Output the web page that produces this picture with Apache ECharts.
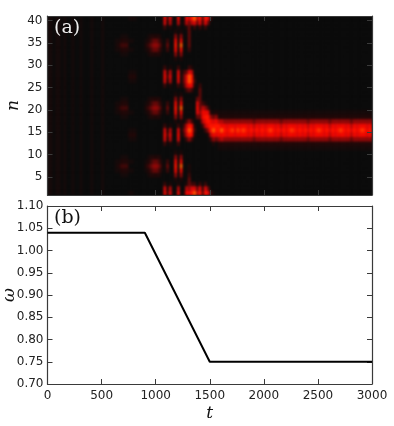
<!DOCTYPE html>
<html><head><meta charset="utf-8">
<style>html,body{margin:0;padding:0;background:#fff}#c{width:394px;height:426px}
/* soften only the heatmap layer (zlevel 0), and keep it inside panel (a) */
#c canvas[data-zr-dom-id="zr_0"]{background:#0b0b0b;filter:blur(1px);clip-path:inset(16px 22px 231px 47.5px)}
</style>
<script src="https://cdn.jsdelivr.net/npm/echarts@6/dist/echarts.min.js"></script>
</head><body><div id="c"></div>
<script>
// Panel (b): drive frequency
const omegaT = [0, 900, 1500, 3000];
const omegaV = [1.04, 1.04, 0.75, 0.75];
// Panel (a): level profiles for n = 1..40 (x = half a level, y = level 8.5)
const Z = "0000000000 0000000000 0000000000 0000000000";
const X = "xxxxxxxxxx xxxxxxxxxx xxxxxxxxxx xxxxxxxxxx";
const P1 = "0000000000 x1478741x0 0000000000 0000000000";
const P2 = "0000000000 x1467641x0 0000000000 0000000000";
const P3 = "0000000000 x147y741x0 0000000000 0000000000";
const P4 = "0000000000 x1356531x0 0000000000 0000000000";
const bandProfiles = {1: P1, 2: P2, 3: P3, 4: P4};
const bandSeq = "1213231312" + "1412121312" + "1412131212" + "1412131214" + "1213121412" + "13121";
const columnRuns = [
  [2,X],[1,Z],[2,X],[1,Z],[1,X],[2,Z],[1,X],[2,Z],[1,X],[3,Z],[1,X],[3,Z],[1,X],[4,Z],
  [1,"00000xxx00 00000000xx x000000000 00xxx00000"],
  [1,"00000x1x00 00000000x1 x000000000 00x1x00000"],
  [3,"0000x121x0 0000000x12 1x00000000 0x121x0000"],
  [2,"x0000x0x00 00x1x000x0 00000x1x00 00x0x0000x"],
  [1,"0000000000 00x1x00000 00000x1x00 000000000x"],
  [3,Z],
  [1,"00000x1x00 00000000x1 x000000000 00x1x00000"],
  [1,"0000x121x0 0000000x12 1x00000000 0x121x0000"],
  [1,"0000123210 0000000123 2100000000 0123210000"],
  [2,"0000134310 0000000134 3100000000 0134310000"],
  [1,"0000123210 0000000123 2100000000 0123210000"],
  [1,"00000x1x00 00000000x1 x000000000 00x1x00000"],
  [1,"7620000000 0267620000 0000267620 0000000267"],
  [1,"2100023200 0012100023 2000012100 0023200012"],
  [1,"6510000000 0156510000 0000156510 0000000156"],
  [1,"x000000000 0000000000 0000000000 000000000x"],
  [1,"0001478741 0000001478 7410000000 1478741000"],
  [1,"7510000000 0267620000 0000267620 0000000157"],
  [1,"0001479741 0000001479 7410000000 1479741000"],
  [1,"1000000000 0002320000 0000233200 000000001x"],
  [1,"7510000000 0025652000 0002566300 0000000157"],
  [1,"6433211000 0048984000 0003799620 0023333335"],
  [1,"8620000000 0027872000 0002688510 0000000058"],
  [1,"9620000000 0001210000 0000121000 0000000269"],
  [1,"5300000000 0000000367 6300000000 0000000035"],
  [1,"8620000000 0000001343 3333200000 0000000268"],
  [1,"3200000000 0000025775 2000000000 0000000023"],
  [1,"8620000000 0000257874 1000000000 0000000268"],
  [1,"6300000000 0001478862 0000000000 0000000036"],
  [1,"2000000000 0025887410 0000000000 0000000002"],
  [1,"x000000000 01479863x0 0000000000 0000000000"],
  [1,"0000000000 0036887410 0000000000 0000000000"],
  [1,"0000000000 x1478851x0 0000000000 0000000000"],
  [1,"0000000000 x1579751x0 0000000000 0000000000"]
];
const nTicks = [5,10,15,20,25,30,35,40];
const levelColors = ['#0b0b0b','#200808','#3d0808','#650808','#8f0808','#b80808','#dc0808','#f00800','#ff1400','#ff5a00'];

const columns = [];
columnRuns.forEach(([k,p]) => { for (let i=0;i<k;i++) columns.push(p); });
for (const ch of bandSeq) columns.push(bandProfiles[ch]);
const tCats = columns.map((_,i)=>i*25);
const nCats = Array.from({length:40},(_,i)=>i+1);
const cells = [];
columns.forEach((p,c)=>{
  const s = p.replace(/ /g,'');
  for (let r=0;r<40;r++){ const ch=s[r]; cells.push([c,r,ch==='x'?0.5:ch==='y'?8.5:Number(ch||0)]); }
});

const FONT='DejaVu Sans', SERIF='DejaVu Serif', FR='#3a3a3a', TXT='#222', ZL=1;
const line={show:true,onZero:false,lineStyle:{color:FR,width:1.2}};
const tick={show:true,inside:true,length:5,lineStyle:{color:FR,width:1}};
const hidden={show:false};
const lab={fontFamily:FONT,fontSize:12,color:TXT};
const nameSt={fontFamily:SERIF,fontStyle:'italic',fontSize:17,color:'#111'};
const chart=echarts.init(document.getElementById('c'),null,{renderer:'canvas'});
chart.setOption({
  animation:false,
  grid:[{left:47.5,top:16,width:324.5,height:179,outerBoundsMode:'none'},{left:47.5,top:206,width:324.5,height:178,outerBoundsMode:'none'}],
  visualMap:{show:false,type:'continuous',min:0,max:9,dimension:2,seriesIndex:0,inRange:{color:levelColors}},
  xAxis:[
    {gridIndex:0,type:'category',data:tCats,show:false},
    {gridIndex:0,type:'value',min:0,max:3000,interval:500,position:'top',zlevel:ZL,axisLine:line,axisTick:tick,axisLabel:hidden,splitLine:hidden},
    {gridIndex:0,type:'value',min:0,max:3000,interval:500,position:'bottom',zlevel:ZL,axisLine:line,axisTick:tick,axisLabel:hidden,splitLine:hidden},
    {gridIndex:1,type:'value',min:0,max:3000,interval:500,position:'bottom',zlevel:ZL,axisLine:line,axisTick:tick,
      axisLabel:Object.assign({margin:6,hideOverlap:false,showMinLabel:true,showMaxLabel:true,formatter:v=>String(v)},lab),splitLine:hidden,
      name:'t',nameLocation:'middle',nameGap:21,nameMoveOverlap:false,nameTextStyle:nameSt},
    {gridIndex:1,type:'value',min:0,max:3000,interval:500,position:'top',zlevel:ZL,axisLine:line,axisTick:tick,axisLabel:hidden,splitLine:hidden}
  ],
  yAxis:[
    {gridIndex:0,type:'category',data:nCats,show:false},
    {gridIndex:0,type:'value',min:1,max:41,position:'left',zlevel:ZL,axisLine:line,
      axisTick:Object.assign({customValues:nTicks},tick),
      axisLabel:Object.assign({customValues:nTicks,margin:5},lab),splitLine:hidden,
      name:'n',nameLocation:'middle',nameGap:25,nameRotate:90,nameMoveOverlap:false,nameTextStyle:nameSt},
    {gridIndex:0,type:'value',min:1,max:41,position:'right',zlevel:ZL,axisLine:line,
      axisTick:Object.assign({customValues:nTicks},tick),axisLabel:hidden,splitLine:hidden},
    {gridIndex:1,type:'value',min:0.7,max:1.1,interval:0.05,position:'left',zlevel:ZL,axisLine:line,axisTick:tick,
      axisLabel:Object.assign({margin:4,formatter:v=>v.toFixed(2)},lab),splitLine:hidden,
      name:'ω',nameLocation:'middle',nameGap:29,nameRotate:90,nameMoveOverlap:false,nameTextStyle:nameSt},
    {gridIndex:1,type:'value',min:0.7,max:1.1,interval:0.05,position:'right',zlevel:ZL,axisLine:line,axisTick:tick,axisLabel:hidden,splitLine:hidden}
  ],
  series:[
    {type:'heatmap',xAxisIndex:0,yAxisIndex:0,data:cells,progressive:0,emphasis:{disabled:true},silent:true,zlevel:0},
    {type:'line',xAxisIndex:3,yAxisIndex:3,data:omegaT.map((t,i)=>[t,omegaV[i]]),showSymbol:false,symbol:'none',
      lineStyle:{color:'#000',width:2},silent:true,zlevel:ZL}
  ],
  graphic:[
    {type:'text',left:54,top:19,zlevel:ZL,style:{text:'(a)',fill:'#eee',font:'19px "DejaVu Serif"'}},
    {type:'text',left:54,top:209,zlevel:ZL,style:{text:'(b)',fill:'#111',font:'19px "DejaVu Serif"'}}
  ]
});
</script></body></html>
